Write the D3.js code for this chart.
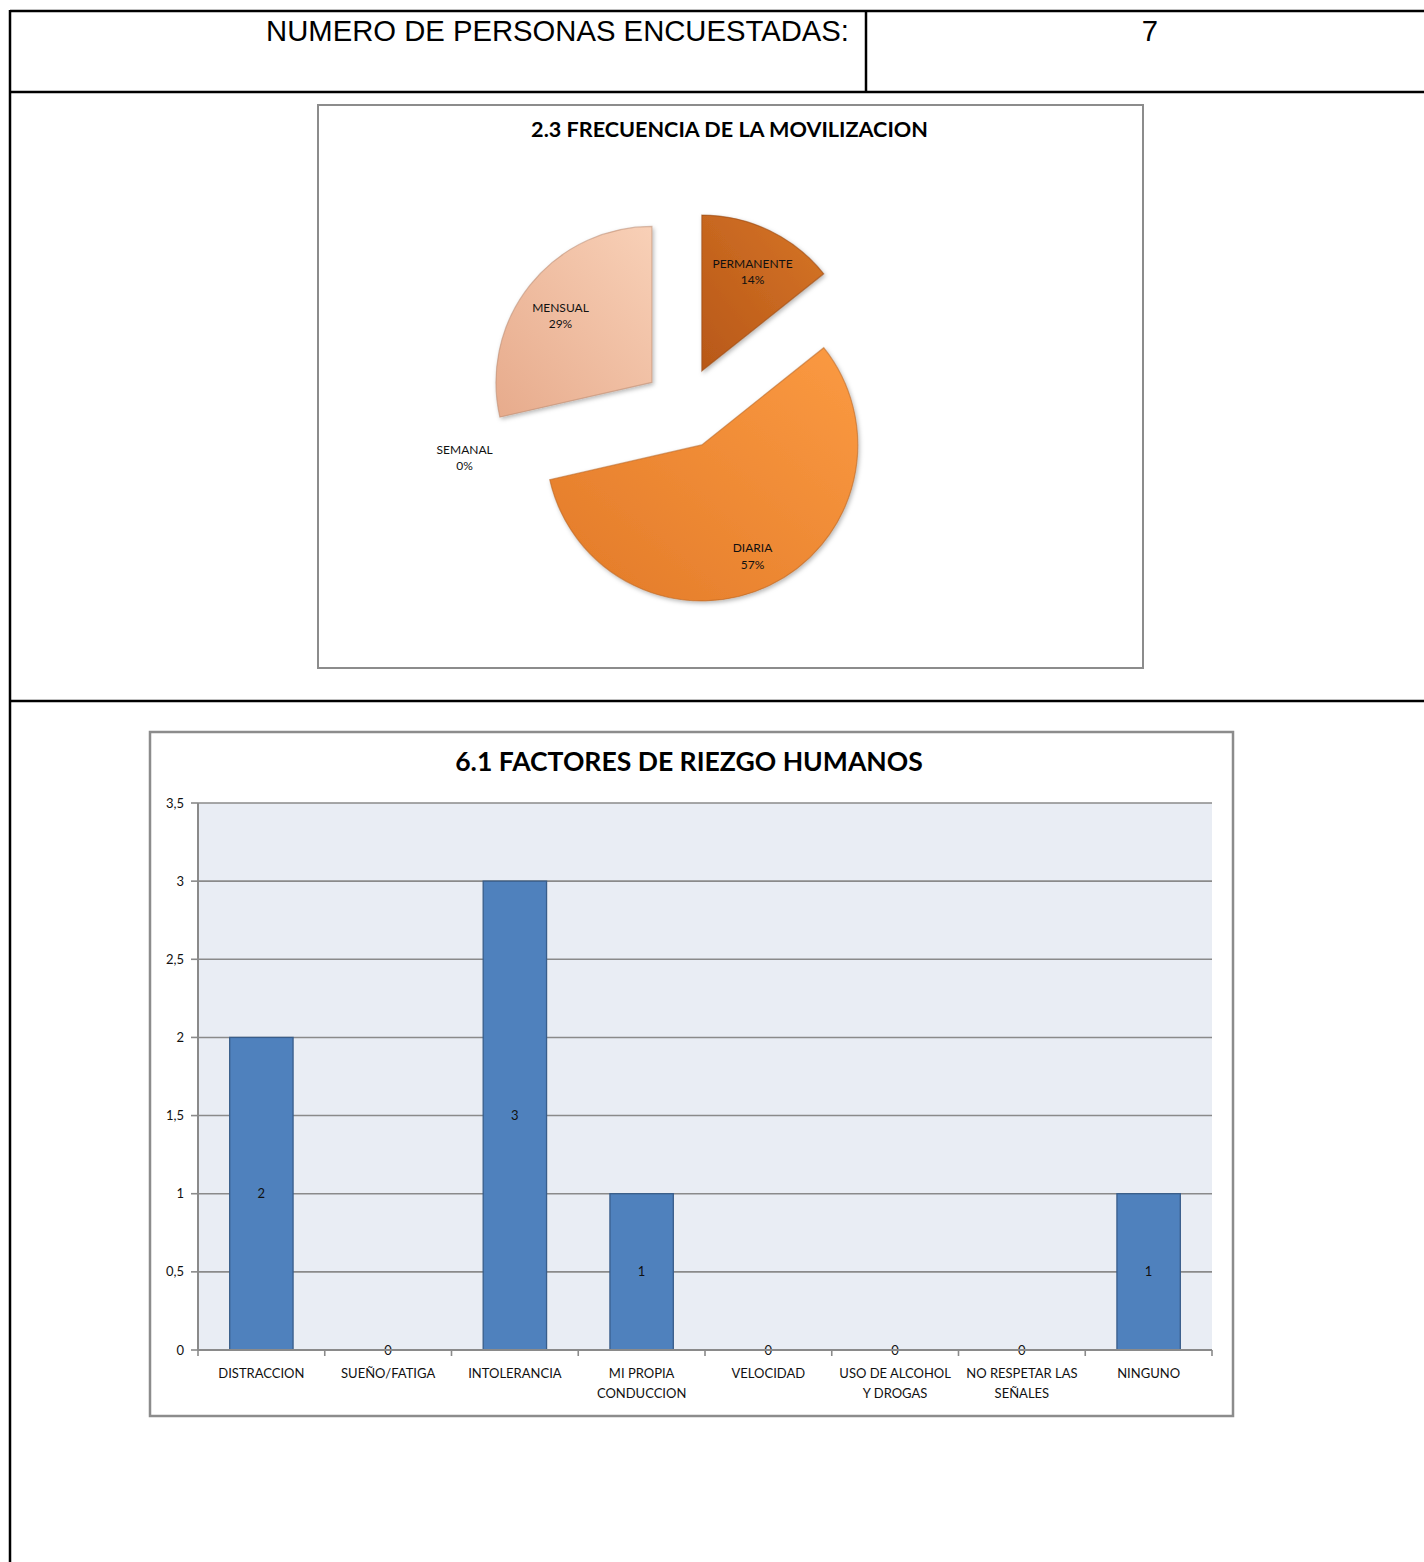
<!DOCTYPE html>
<html>
<head>
<meta charset="utf-8">
<script src="https://cdn.jsdelivr.net/npm/d3@7/dist/d3.min.js"></script>
<style>
  html, body { margin: 0; padding: 0; background: #fff; }
  svg { display: block; }
</style>
</head>
<body>
<svg id="page" width="1424" height="1562"></svg>
<script>
// ---------------- DATA ----------------
const headerLabel = "NUMERO DE PERSONAS ENCUESTADAS:";
const headerValue = "7";

const pieTitle = "2.3 FRECUENCIA DE LA MOVILIZACION";
const pieCategories = ["PERMANENTE", "DIARIA", "SEMANAL", "MENSUAL"];
const pieValues = [1, 4, 0, 2];

const barTitle = "6.1 FACTORES DE RIEZGO HUMANOS";
const barCategories = ["DISTRACCION", "SUEÑO/FATIGA", "INTOLERANCIA", "MI PROPIA\nCONDUCCION",
                       "VELOCIDAD", "USO DE ALCOHOL\nY DROGAS", "NO RESPETAR LAS\nSEÑALES", "NINGUNO"];
const barValues = [2, 0, 3, 1, 0, 0, 0, 1];
const yTicks = [0, 0.5, 1, 1.5, 2, 2.5, 3, 3.5];
const yTickLabels = ["0", "0,5", "1", "1,5", "2", "2,5", "3", "3,5"];

// ---------------- PAGE ----------------
const svg = d3.select("#page");
const chartFont = "Lato, 'Open Sans', sans-serif";

function fitWidth(sel, w) {
  const len = sel.node().getComputedTextLength();
  const fs = parseFloat(sel.attr("font-size"));
  sel.attr("font-size", fs * w / len);
}

const defs = svg.append("defs");

// table borders
const tbl = svg.append("g").attr("stroke", "#000").attr("stroke-width", 2.5).attr("fill", "none");
tbl.append("line").attr("x1", 10).attr("x2", 1430).attr("y1", 11).attr("y2", 11);
tbl.append("line").attr("x1", 10).attr("x2", 1430).attr("y1", 92).attr("y2", 92);
tbl.append("line").attr("x1", 10).attr("x2", 1430).attr("y1", 701).attr("y2", 701);
tbl.append("line").attr("x1", 10).attr("x2", 10).attr("y1", 10).attr("y2", 1570);
tbl.append("line").attr("x1", 866).attr("x2", 866).attr("y1", 11).attr("y2", 92);

const h1 = svg.append("text").attr("x", 849).attr("y", 41).attr("text-anchor", "end")
  .attr("font-family", "'Liberation Sans', Arial, sans-serif").attr("font-size", 28)
  .attr("fill", "#000").text(headerLabel);
fitWidth(h1, 583);
svg.append("text").attr("x", 1150).attr("y", 41).attr("text-anchor", "middle")
  .attr("font-family", "'Liberation Sans', Arial, sans-serif").attr("font-size", h1.attr("font-size"))
  .attr("fill", "#000").text(headerValue);

// ---------------- PIE ----------------
const pieFrame = { x: 318, y: 105, w: 825, h: 563 };
svg.append("rect").attr("x", pieFrame.x).attr("y", pieFrame.y).attr("width", pieFrame.w).attr("height", pieFrame.h)
  .attr("fill", "#fff").attr("stroke", "#8c8c8c").attr("stroke-width", 2);
const pt = svg.append("text").attr("x", 729.5).attr("y", 137).attr("text-anchor", "middle")
  .attr("font-family", chartFont).attr("font-weight", "bold").attr("font-size", 20)
  .attr("fill", "#000").text(pieTitle);
fitWidth(pt, 397);

const pieColors = [
  ["#d67527", "#b85818"],   // permanente
  ["#fb9a42", "#e27a28"],   // diaria
  ["#f5a660", "#e58a40"],   // semanal (zero)
  ["#f8d0b7", "#e7ab8c"]    // mensual
];
pieColors.forEach((c, i) => {
  const g = defs.append("linearGradient").attr("id", "pg" + i)
    .attr("x1", "1").attr("y1", "0").attr("x2", "0").attr("y2", "1");
  g.append("stop").attr("offset", "0%").attr("stop-color", c[0]);
  g.append("stop").attr("offset", "100%").attr("stop-color", c[1]);
});
const shadow = defs.append("filter").attr("id", "pshadow").attr("x", "-20%").attr("y", "-20%")
  .attr("width", "140%").attr("height", "140%");
shadow.append("feDropShadow").attr("dx", 1.5).attr("dy", 2).attr("stdDeviation", 2)
  .attr("flood-color", "#000").attr("flood-opacity", 0.28);

const pcx = 684, pcy = 408, pr = 156, explode = 41;
const total = d3.sum(pieValues);
const pie = d3.pie().sort(null).value(d => d)(pieValues);
const arc = d3.arc().innerRadius(0).outerRadius(pr);
const pg = svg.append("g").attr("transform", `translate(${pcx},${pcy})`);

pie.forEach((p, i) => {
  const mid = (p.startAngle + p.endAngle) / 2;
  const dx = Math.sin(mid) * explode, dy = -Math.cos(mid) * explode;
  if (p.value > 0) {
    pg.append("path").attr("d", arc(p))
      .attr("transform", `translate(${dx},${dy})`)
      .attr("fill", `url(#pg${i})`)
      .attr("stroke", d3.color(pieColors[i][1]).darker(0.6))
      .attr("stroke-opacity", 0.55).attr("stroke-width", 1.2)
      .attr("filter", "url(#pshadow)");
  }
  let lx, ly, firstDy;
  if (p.value > 0) {
    lx = dx + Math.sin(mid) * pr * 0.75;
    ly = dy - Math.cos(mid) * pr * 0.75;
    firstDy = "0.17em";
  } else {
    const rr = pr + explode + 28;
    lx = Math.sin(mid) * rr;
    ly = -Math.cos(mid) * rr;
    firstDy = "-0.33em";
  }
  const pct = Math.round(p.value / total * 100) + "%";
  const t = pg.append("text").attr("x", lx).attr("y", ly).attr("text-anchor", "middle")
    .attr("font-family", chartFont).attr("font-size", 12).attr("fill", "#111");
  t.append("tspan").attr("x", lx).attr("dy", firstDy).text(pieCategories[i]);
  t.append("tspan").attr("x", lx).attr("dy", "1.35em").text(pct);
});

// ---------------- BAR ----------------
const barFrame = { x: 150, y: 732, w: 1083, h: 684 };
svg.append("rect").attr("x", barFrame.x).attr("y", barFrame.y).attr("width", barFrame.w).attr("height", barFrame.h)
  .attr("fill", "#fff").attr("stroke", "#8c8c8c").attr("stroke-width", 2.5);
const bt = svg.append("text").attr("x", 689).attr("y", 771).attr("text-anchor", "middle")
  .attr("font-family", chartFont).attr("font-weight", "bold").attr("font-size", 24)
  .attr("fill", "#000").text(barTitle);
fitWidth(bt, 468);

const plot = { l: 198, r: 1212, t: 803, b: 1350 };
const x = d3.scaleBand().domain(barCategories).range([plot.l, plot.r]).paddingInner(0.5).paddingOuter(0.25);
const y = d3.scaleLinear().domain([0, 3.5]).range([plot.b, plot.t]);
const step = x.step();

svg.append("rect").attr("x", plot.l).attr("y", plot.t).attr("width", plot.r - plot.l).attr("height", plot.b - plot.t)
  .attr("fill", "#e9edf4");

// gridlines
svg.append("g").selectAll("line").data(yTicks.filter(v => v > 0)).join("line")
  .attr("x1", plot.l).attr("x2", plot.r).attr("y1", d => y(d)).attr("y2", d => y(d))
  .attr("stroke", "#8a8a8a").attr("stroke-width", 1.6);

// bars
svg.append("g").selectAll("rect").data(barValues).join("rect")
  .attr("x", (d, i) => x(barCategories[i]))
  .attr("y", d => y(d))
  .attr("width", x.bandwidth())
  .attr("height", d => y(0) - y(d))
  .attr("fill", "#4f81bd").attr("stroke", "#385d8a").attr("stroke-width", 1.3);

// value labels
svg.append("g").selectAll("text").data(barValues).join("text")
  .attr("x", (d, i) => x(barCategories[i]) + x.bandwidth() / 2)
  .attr("y", d => y(d / 2))
  .attr("dy", "0.35em")
  .attr("text-anchor", "middle")
  .attr("font-family", chartFont).attr("font-size", 13).attr("fill", "#111")
  .text(d => d);

// y axis
const yAxis = svg.append("g");
yAxis.append("line").attr("x1", plot.l).attr("x2", plot.l).attr("y1", plot.t).attr("y2", plot.b)
  .attr("stroke", "#8a8a8a").attr("stroke-width", 2);
yAxis.selectAll("line.tk").data(yTicks).join("line").attr("class", "tk")
  .attr("x1", plot.l - 7).attr("x2", plot.l).attr("y1", d => y(d)).attr("y2", d => y(d))
  .attr("stroke", "#8a8a8a").attr("stroke-width", 1.6);
yAxis.selectAll("text").data(yTicks).join("text")
  .attr("x", plot.l - 14).attr("y", d => y(d)).attr("dy", "0.35em").attr("text-anchor", "end")
  .attr("font-family", chartFont).attr("font-size", 13).attr("fill", "#111")
  .text((d, i) => yTickLabels[i]);

// x axis
const xAxis = svg.append("g");
xAxis.append("line").attr("x1", plot.l).attr("x2", plot.r).attr("y1", plot.b).attr("y2", plot.b)
  .attr("stroke", "#8a8a8a").attr("stroke-width", 2);
xAxis.selectAll("line.tk").data(d3.range(barCategories.length + 1)).join("line").attr("class", "tk")
  .attr("x1", i => plot.l + i * step).attr("x2", i => plot.l + i * step)
  .attr("y1", plot.b).attr("y2", plot.b + 6)
  .attr("stroke", "#8a8a8a").attr("stroke-width", 1.6);
barCategories.forEach(c => {
  const cx = x(c) + x.bandwidth() / 2;
  const t = xAxis.append("text").attr("text-anchor", "middle")
    .attr("font-family", chartFont).attr("font-size", 13).attr("fill", "#111");
  c.split("\n").forEach((line, k) => {
    t.append("tspan").attr("x", cx).attr("y", plot.b + 28 + k * 20).text(line);
  });
});
</script>
</body>
</html>
